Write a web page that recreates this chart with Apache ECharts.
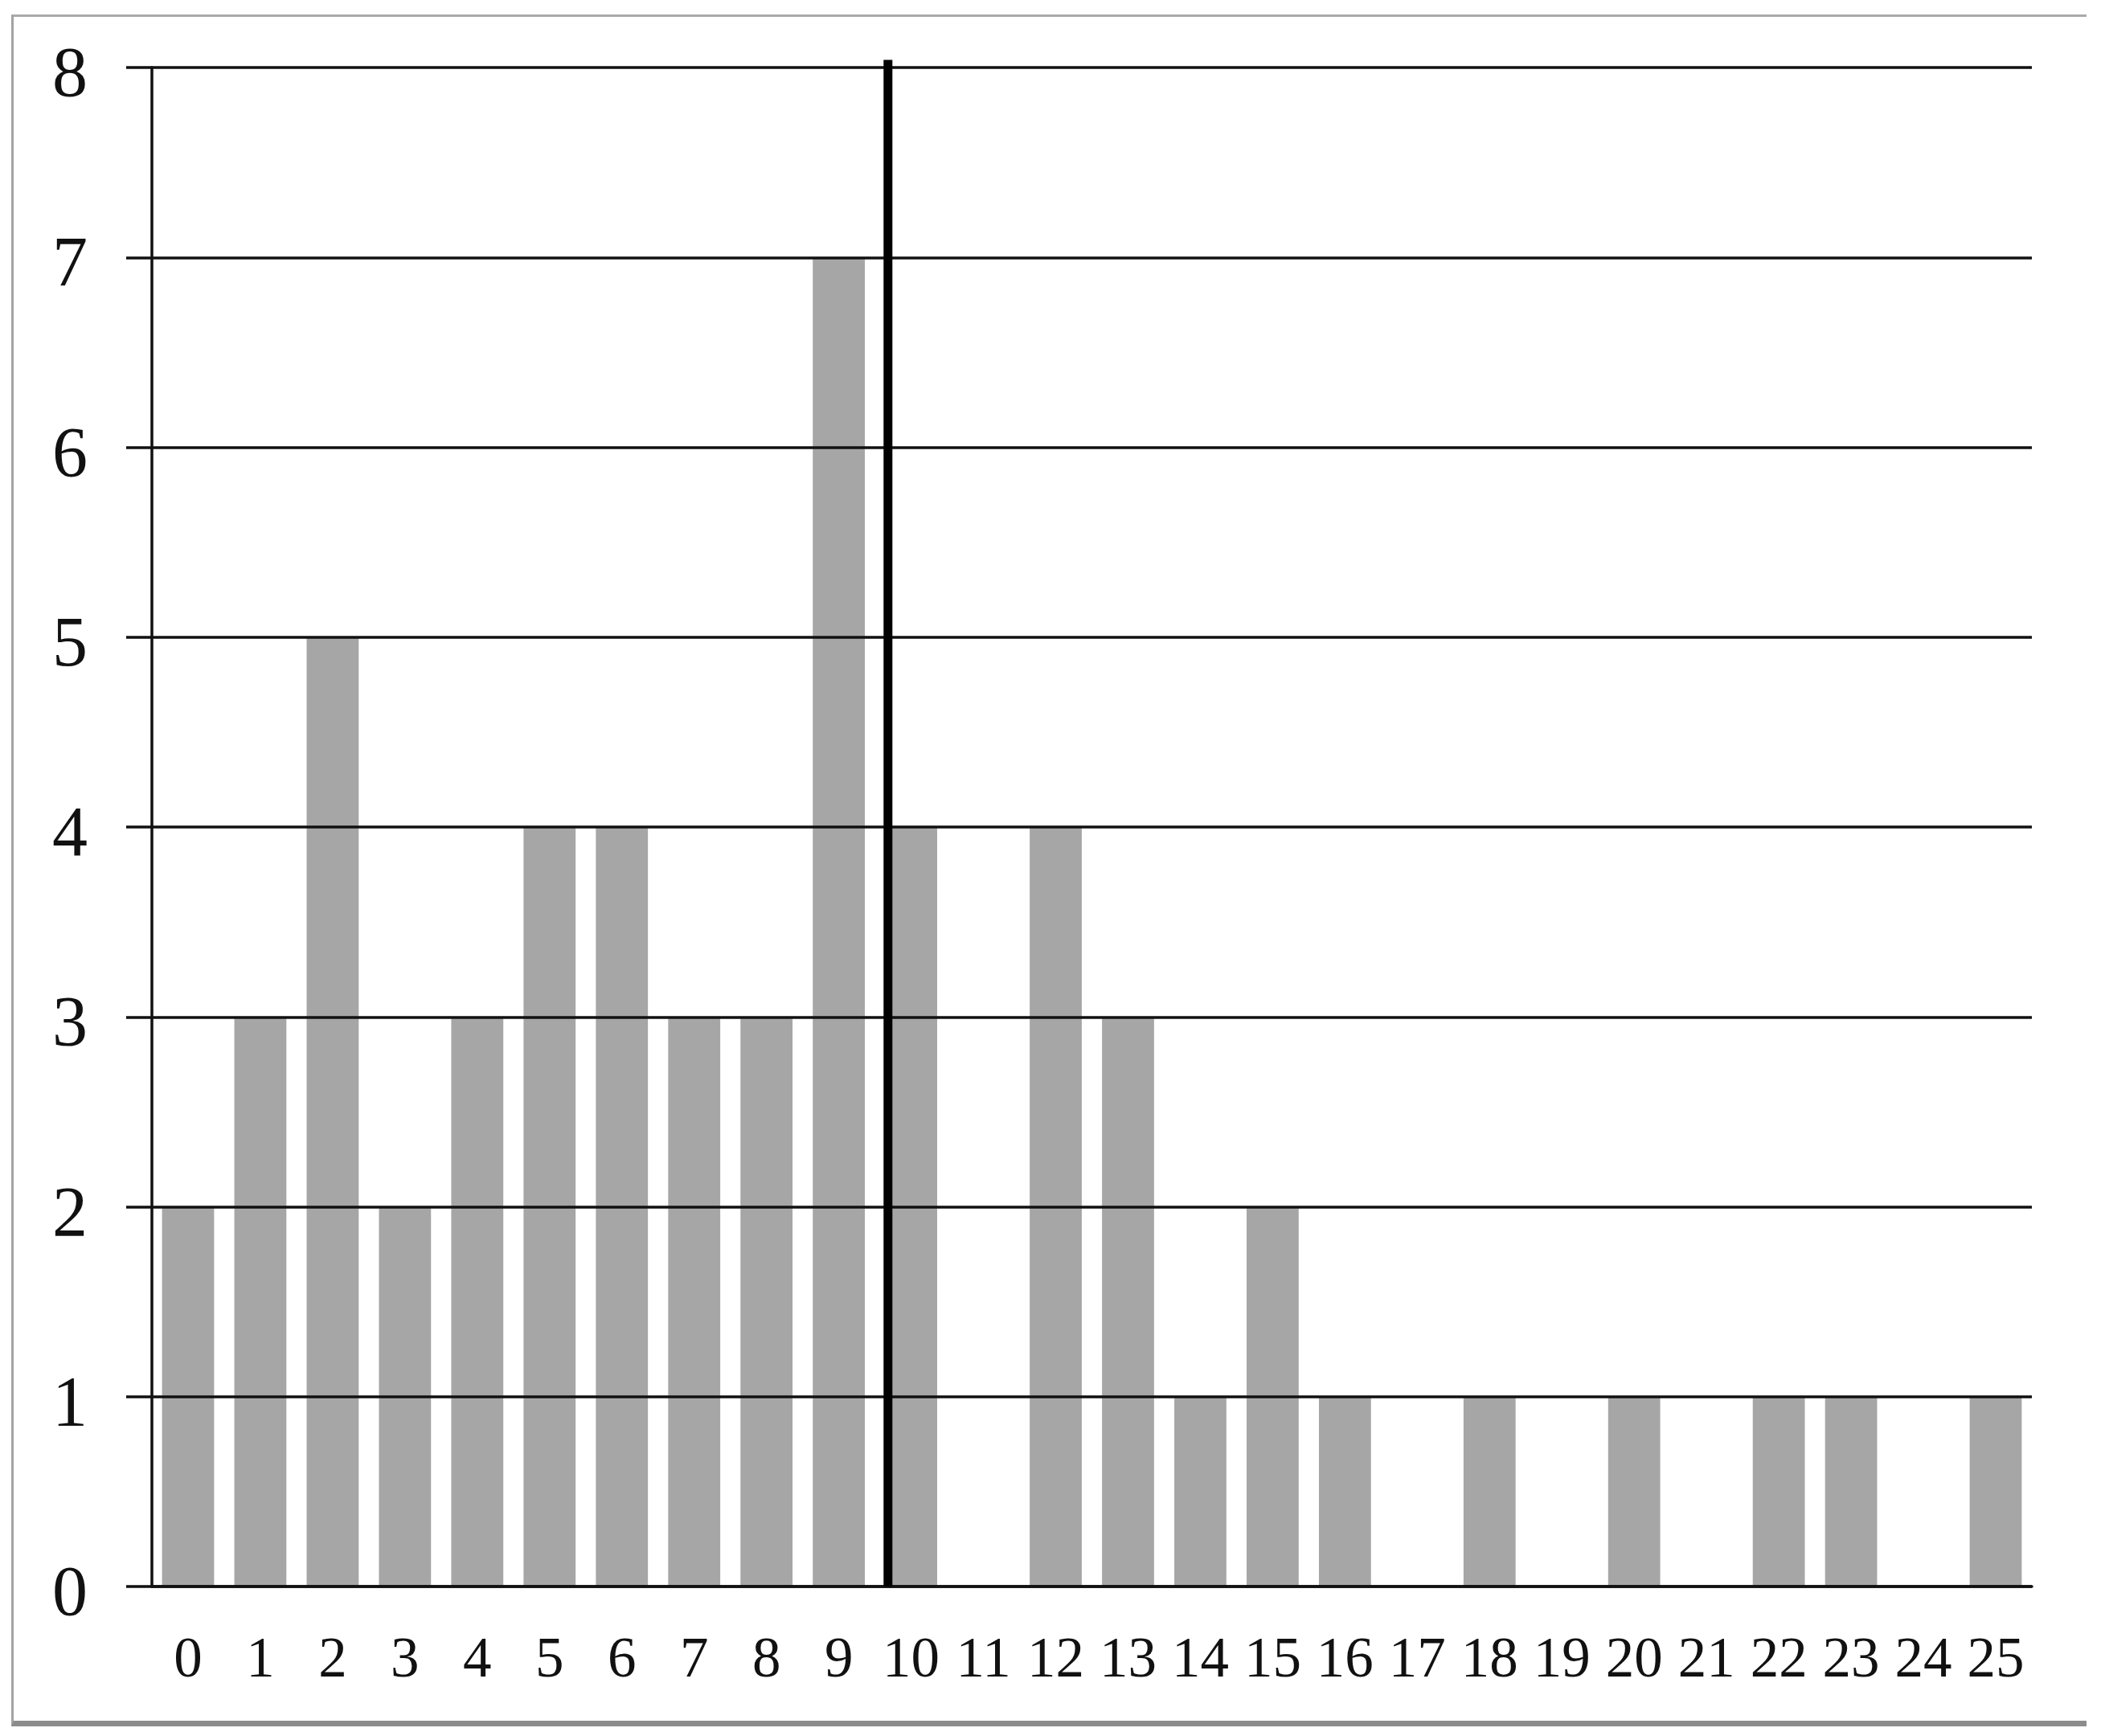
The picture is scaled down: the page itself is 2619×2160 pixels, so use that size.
<!DOCTYPE html>
<html>
<head>
<meta charset="utf-8">
<script src="https://cdn.jsdelivr.net/npm/echarts@6/dist/echarts.min.js"></script>
<style>
  html, body { margin: 0; padding: 0; background: #ffffff; }
  #frame {
    position: absolute; left: 14px; top: 18px; width: 2579px; height: 2120px;
    border-top: 3px solid #a9a9a9; border-left: 3px solid #a3a3a3;
    border-bottom: 7px solid #8c8c8c; box-sizing: content-box;
  }
  #chart { position: absolute; left: 0; top: 0; width: 2619px; height: 2160px; }
</style>
</head>
<body>
<div id="frame"></div>
<div id="chart"></div>
<script>
// Categories (x-axis tick labels)
const categories = ['0','1','2','3','4','5','6','7','8','9','10','11','12','13','14','15','16','17','18','19','20','21','22','23','24','25'];
// Bar heights
const counts = [2, 3, 5, 2, 3, 4, 4, 3, 3, 7, 4, 0, 4, 3, 1, 2, 1, 0, 1, 0, 1, 0, 1, 1, 0, 1];
// Y-axis range
const yMin = 0;
const yMax = 8;
const yStep = 1;
// Vertical divider position (in category-index units) and its vertical extent
const dividerX = 9.68;
const dividerSpan = [0, 8.04];

const chart = echarts.init(document.getElementById('chart'), null, { renderer: 'canvas' });

const option = {
  animation: false,
  backgroundColor: 'transparent',
  grid: { left: 189, right: 91, top: 84, bottom: 186, containLabel: false },
  xAxis: [
    {
      type: 'category',
      data: categories,
      z: 5,
      axisLine: { show: true, onZero: false, lineStyle: { color: '#111111', width: 3.5 } },
      axisTick: { show: false },
      axisLabel: {
        interval: 0,
        margin: 58,
        color: '#111111',
        fontFamily: 'Liberation Serif, DejaVu Serif, serif',
        fontSize: 71
      },
      splitLine: { show: false }
    },
    {
      type: 'value',
      min: -0.5,
      max: categories.length - 0.5,
      show: false
    }
  ],
  yAxis: {
    type: 'value',
    min: yMin,
    max: yMax,
    interval: yStep,
    z: 5,
    axisLine: { show: true, onZero: false, lineStyle: { color: '#111111', width: 3.5 } },
    axisTick: { show: true, length: 32, lineStyle: { color: '#111111', width: 3.5 } },
    axisLabel: {
      margin: 80,
      verticalAlign: 'top',
      lineHeight: 24,
      color: '#111111',
      fontFamily: 'Liberation Serif, DejaVu Serif, serif',
      fontSize: 88
    },
    splitLine: { show: true, lineStyle: { color: '#111111', width: 3.5 } }
  },
  series: [
    {
      type: 'bar',
      data: counts,
      xAxisIndex: 0,
      barCategoryGap: '28%',
      itemStyle: { color: '#a6a6a6' },
      z: 2
    },
    {
      type: 'line',
      xAxisIndex: 1,
      data: dividerSpan.map(v => [dividerX, v]),
      symbol: 'none',
      clip: false,
      lineStyle: { color: '#000000', width: 11, cap: 'butt' },
      z: 6
    }
  ]
};

chart.setOption(option);
</script>
</body>
</html>
